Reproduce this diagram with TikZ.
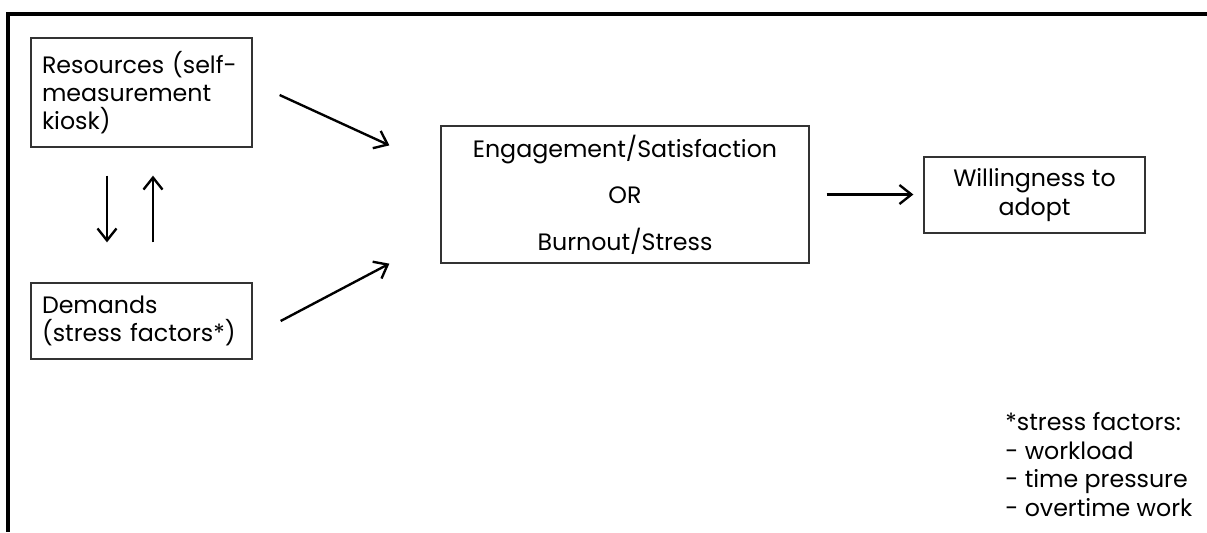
\documentclass[tikz,border=0pt]{standalone}
\usepackage{fontspec}
\setmainfont{Poppins}
\usetikzlibrary{arrows.meta,calc}
\begin{document}
\begin{tikzpicture}[x=0.02cm, y=-0.02cm,
    >={Straight Barb[length=2.4mm,width=3.8mm]},
    frame/.style={line width=2.2pt, black},
    box/.style={draw=black!80, line width=0.75pt, inner xsep=0.22cm, font=\fontsize{13.5}{16}\selectfont},
    lbox/.style={box, align=left, text width=3.98cm, minimum height=#1},
    arr/.style={->, line width=1.35pt}
]
\useasboundingbox (0,0) rectangle (1207,532);
\draw[frame] (1207,14) -- (8,14) -- (8,532);

\node[lbox=2.18cm] (res) at (141.5,92.5) {Resources (self-\\measurement\\kiosk)};
\node[lbox=1.52cm] (dem) at (141.5,321) {Demands\\(stress factors*)};
\node[box, align=center, minimum width=7.36cm, minimum height=2.74cm] (eng) at (625,194.5)
    {Engagement/Satisfaction\\[10.5pt]OR\\[10.5pt]Burnout/Stress};
\node[box, align=center, minimum width=4.42cm, minimum height=1.52cm] (will) at (1034.5,195)
    {Willingness to\\adopt};
\node[inner sep=0pt, anchor=north west, align=left, font=\fontsize{13.5}{16.3}\selectfont] (note) at (1005,412)
    {*stress factors:\\- workload\\- time pressure\\- overtime work};

\draw[arr] ($(res.east)+(27,2.5)$) -- ($(eng.north west)+(-51,20)$);
\draw[arr] ($(dem.east)+(28,0)$) -- ($(eng.south west)+(-51,0)$);
\draw[arr, shorten <=0.56cm, shorten >=0.8cm] ($(res.south)+(-34.5,0)$) -- ($(dem.north)+(-34.5,0)$);
\draw[arr, shorten <=0.8cm, shorten >=0.56cm] ($(dem.north)+(11.5,0)$) -- ($(res.south)+(11.5,0)$);
\draw[arr, shorten <=0.34cm, shorten >=0.2cm] (eng.east) -- (eng.east -| will.west);
\end{tikzpicture}
\end{document}
